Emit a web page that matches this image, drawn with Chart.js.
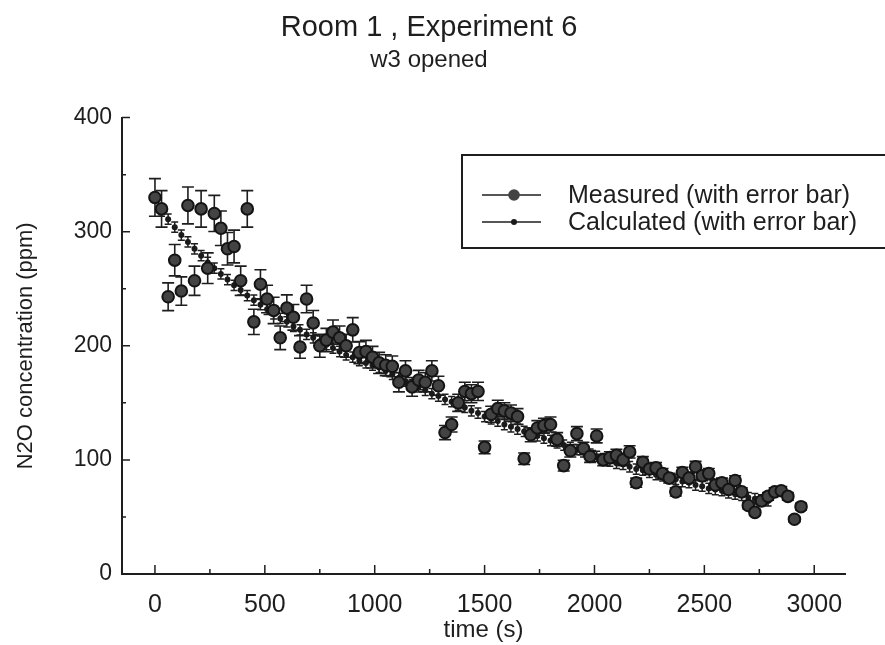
<!DOCTYPE html>
<html>
<head>
<meta charset="utf-8">
<title>Room 1, Experiment 6</title>
<script src="https://cdn.jsdelivr.net/npm/chart.js@4/dist/chart.umd.min.js"></script>
<style>
  html, body { margin: 0; padding: 0; background: #fff; }
  #wrap { width: 885px; height: 645px; }
</style>
</head>
<body>
<div id="wrap"><canvas id="grafico" width="885" height="645"></canvas></div>
<script>
// valores (tempo em s, N2O em ppm)
const measuredTime = [
  0, 30, 60, 90, 120, 150, 180, 210, 240, 270, 300, 330, 360, 390, 420, 450, 480, 510, 540, 570,
  600, 630, 660, 690, 720, 750, 780, 810, 840, 870, 900, 930, 960, 990, 1020, 1050, 1080, 1110, 1140, 1170,
  1200, 1230, 1260, 1290, 1320, 1350, 1380, 1410, 1440, 1470, 1500, 1530, 1560, 1590, 1620, 1650, 1680, 1710, 1740, 1770,
  1800, 1830, 1860, 1890, 1920, 1950, 1980, 2010, 2040, 2070, 2100, 2130, 2160, 2190, 2220, 2250, 2280, 2310, 2340, 2370,
  2400, 2430, 2460, 2490, 2520, 2550, 2580, 2610, 2640, 2670, 2700, 2730, 2760, 2790, 2820, 2850, 2880, 2910, 2940,
];
const measuredN2O = [
  330, 320, 243, 275, 248, 323, 257, 320, 268, 316, 303, 285, 287, 257, 320, 221, 254, 241, 231, 207,
  233, 225, 199, 241, 220, 200, 205, 212, 207, 200, 214, 194, 195, 190, 185, 183, 182, 168, 178, 164,
  170, 168, 178, 165, 124, 131, 150, 160, 158, 160, 111, 140, 145, 143, 141, 138, 101, 122, 128, 130,
  131, 118, 95, 108, 123, 110, 103, 121, 100, 102, 104, 100, 107, 80, 98, 92, 93, 88, 84, 72,
  89, 84, 94, 86, 88, 78, 80, 74, 82, 72, 60, 54, 64, 68, 72, 73, 68, 48, 59,
];
const calcTime = [
  30, 60, 90, 120, 150, 180, 210, 240, 270, 300, 330, 360, 390, 420, 450, 480, 510, 540, 570, 600,
  630, 660, 690, 720, 750, 780, 810, 840, 870, 900, 930, 960, 990, 1020, 1050, 1080, 1110, 1140, 1170, 1200,
  1230, 1260, 1290, 1320, 1350, 1380, 1410, 1440, 1470, 1500, 1530, 1560, 1590, 1620, 1650, 1680, 1710, 1740, 1770, 1800,
  1830, 1860, 1890, 1920, 1950, 1980, 2010, 2040, 2070, 2100, 2130, 2160, 2190, 2220, 2250, 2280, 2310, 2340, 2370, 2400,
  2430, 2460, 2490, 2520, 2550, 2580, 2610, 2640, 2670, 2700, 2730, 2760, 2790,
];
const calcN2O = [
  318, 311, 304, 297, 291, 285, 279, 273, 268, 263, 258, 253, 249, 244, 240, 236, 232, 228, 224, 221,
  217, 214, 210, 207, 204, 201, 198, 195, 192, 190, 187, 185, 183, 181, 178, 175, 172, 169, 166, 164,
  161, 158, 156, 153, 151, 148, 146, 143, 141, 138, 136, 134, 131, 129, 127, 125, 123, 121, 119, 117,
  115, 113, 111, 109, 107, 105, 103, 101, 99, 97, 96, 94, 92, 91, 89, 87, 86, 84, 83, 81,
  80, 78, 77, 75, 74, 73, 71, 70, 69, 67, 66, 65, 64,
];
const measuredErrPct = 0.05; // barra de erro relativa das medidas
const calcErr = 4.5;          // barra de erro do calculado (ppm)

const xTicks = [0, 500, 1000, 1500, 2000, 2500, 3000];
const xMinorTicks = [250, 750, 1250, 1750, 2250, 2750];
const yTicks = [0, 100, 200, 300, 400];
const yMinorTicks = [50, 150, 250, 350];

const FONTE = "'Liberation Sans', Arial, sans-serif";
const TINTA = "#1e1e1e";

function pontos(xs, ys) {
  return xs.map((x, i) => ({ x: x, y: ys[i] }));
}

const errorBars = {
  id: "errorBars",
  beforeDatasetsDraw(chart) {
    const { ctx, scales } = chart;
    ctx.save();
    ctx.strokeStyle = TINTA;
    chart.data.datasets.forEach((ds, i) => {
      const meta = chart.getDatasetMeta(i);
      ctx.lineWidth = ds.barWidth;
      meta.data.forEach((pt, j) => {
        const v = ds.data[j].y;
        const e = ds.errPct ? v * ds.errPct : ds.errAbs;
        const top = scales.y.getPixelForValue(v + e);
        const bot = scales.y.getPixelForValue(v - e);
        const c = ds.capHalf;
        ctx.beginPath();
        ctx.moveTo(pt.x, top);
        ctx.lineTo(pt.x, bot);
        ctx.moveTo(pt.x - c, top);
        ctx.lineTo(pt.x + c, top);
        ctx.moveTo(pt.x - c, bot);
        ctx.lineTo(pt.x + c, bot);
        ctx.stroke();
      });
    });
    ctx.restore();
  },
};

// marcas de escala voltadas para dentro, como no original
const innerTicks = {
  id: "innerTicks",
  afterDraw(chart) {
    const { ctx, scales, chartArea } = chart;
    ctx.save();
    ctx.strokeStyle = TINTA;
    ctx.lineWidth = 1.5;
    ctx.beginPath();
    xTicks.concat(xMinorTicks).forEach((v) => {
      const px = scales.x.getPixelForValue(v);
      const len = xTicks.includes(v) ? 9 : 5;
      ctx.moveTo(px, chartArea.bottom);
      ctx.lineTo(px, chartArea.bottom - len);
    });
    yTicks.concat(yMinorTicks).forEach((v) => {
      const py = scales.y.getPixelForValue(v);
      const len = yTicks.includes(v) ? 8 : 4;
      ctx.moveTo(chartArea.left, py);
      ctx.lineTo(chartArea.left + len, py);
    });
    ctx.stroke();
    ctx.restore();
  },
};

const legendBox = {
  id: "legendBox",
  afterDraw(chart) {
    const { ctx } = chart;
    const ds = chart.data.datasets;
    ctx.save();
    ctx.strokeStyle = TINTA;
    ctx.lineWidth = 2;
    ctx.beginPath();
    ctx.moveTo(885, 155);
    ctx.lineTo(462, 155);
    ctx.lineTo(462, 248);
    ctx.lineTo(885, 248);
    ctx.stroke();

    const linhas = [195, 222];
    ctx.font = "25px " + FONTE;
    ctx.textBaseline = "middle";
    linhas.forEach((y, i) => {
      ctx.lineWidth = 1.5;
      ctx.beginPath();
      ctx.moveTo(482, y);
      ctx.lineTo(541, y);
      ctx.stroke();
      ctx.beginPath();
      ctx.arc(514, y, ds[i].pointRadius, 0, Math.PI * 2);
      ctx.fillStyle = ds[i].pointBackgroundColor;
      ctx.fill();
      ctx.fillStyle = TINTA;
      ctx.fillText(ds[i].label, 568, y + 1);
    });
    ctx.restore();
  },
};

const ctx = document.getElementById("grafico").getContext("2d");

new Chart(ctx, {
  type: "scatter",
  data: {
    datasets: [
      {
        label: "Measured (with error bar)",
        data: pontos(measuredTime, measuredN2O),
        pointRadius: 5.8,
        pointBackgroundColor: "#434343",
        pointBorderColor: "#141414",
        pointBorderWidth: 2,
        showLine: false,
        errPct: measuredErrPct,
        capHalf: 6,
        barWidth: 1.6,
      },
      {
        label: "Calculated (with error bar)",
        data: pontos(calcTime, calcN2O),
        pointRadius: 3,
        pointBackgroundColor: "#1a1a1a",
        pointBorderWidth: 0,
        showLine: false,
        errAbs: calcErr,
        capHalf: 3.5,
        barWidth: 1.5,
      },
    ],
  },
  options: {
    responsive: false,
    animation: false,
    devicePixelRatio: 1,
    layout: { padding: { left: 13, right: 40, top: 0, bottom: 0 } },
    plugins: {
      legend: { display: false },
      tooltip: { enabled: false },
      title: {
        display: true,
        text: "Room 1 , Experiment 6",
        color: TINTA,
        font: { family: FONTE, size: 29, weight: "normal" },
        padding: { top: 11, bottom: 0 },
      },
      subtitle: {
        display: true,
        text: "w3 opened",
        color: TINTA,
        font: { family: FONTE, size: 24, weight: "normal" },
        padding: { top: 0, bottom: 43 },
      },
    },
    scales: {
      x: {
        type: "linear",
        min: -150,
        max: 3140,
        grid: { display: false },
        border: { display: true, color: TINTA, width: 2 },
        ticks: {
          color: TINTA,
          font: { family: FONTE, size: 25 },
          padding: 8,
          maxRotation: 0,
          callback: (v) => String(v),
        },
        afterBuildTicks: (s) => {
          s.ticks = xTicks.map((v) => ({ value: v }));
        },
        afterFit: (s) => {
          s.height = 71;
        },
        title: {
          display: true,
          text: "time (s)",
          color: TINTA,
          font: { family: FONTE, size: 24 },
          padding: { top: 0, bottom: 0 },
        },
      },
      y: {
        type: "linear",
        min: 0,
        max: 400,
        grid: { display: false },
        border: { display: true, color: TINTA, width: 2 },
        ticks: {
          color: TINTA,
          font: { family: FONTE, size: 23 },
          padding: 2,
          callback: (v) => String(v),
        },
        afterBuildTicks: (s) => {
          s.ticks = yTicks.map((v) => ({ value: v }));
        },
        afterFit: (s) => {
          s.width = 109;
        },
        title: {
          display: true,
          text: "N2O concentration (ppm)",
          color: TINTA,
          font: { family: FONTE, size: 22 },
          padding: { top: 0, bottom: 0 },
        },
      },
    },
  },
  plugins: [errorBars, innerTicks, legendBox],
});
</script>
</body>
</html>
